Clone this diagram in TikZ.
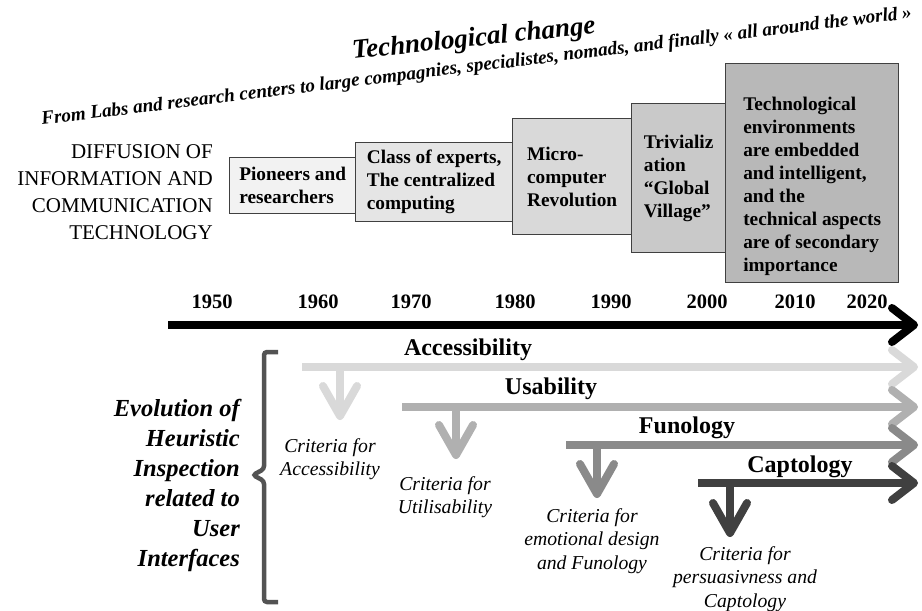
\documentclass[tikz,border=0pt]{standalone}
\usepackage{fontspec}
\setmainfont{Liberation Serif}
\usetikzlibrary{arrows.meta,positioning}
\definecolor{accgray}{HTML}{D9D9D9}
\definecolor{usegray}{HTML}{B0B0B0}
\definecolor{fungray}{HTML}{8A8A8A}
\definecolor{capgray}{HTML}{404040}

\begin{document}
\begin{tikzpicture}[
    x=1pt, y=-1pt,
    stage/.style={draw=black!75, line width=1.3pt, anchor=north west, inner sep=0pt},
    stagetext/.style={align=left, inner sep=0pt, font=\fontsize{19.3}{23}\selectfont\bfseries},
    year/.style={font=\fontsize{20.5}{24}\selectfont\bfseries},
    trend/.style={line width=8pt, -{Straight Barb[length=22pt,width=34pt,round]}},
    drop/.style={line width=8pt, -{Straight Barb[length=30pt,width=34pt,round]}},
    trendlabel/.style={font=\fontsize{24}{28}\selectfont\bfseries},
    crit/.style={align=center, inner sep=0pt, font=\fontsize{19.7}{23.5}\selectfont\itshape}
]
\useasboundingbox (0,0) rectangle (922,611);

% Title
\node[anchor=base west, rotate=6, inner sep=0pt, font=\fontsize{27}{30}\selectfont\bfseries\itshape] (title) at (353,59) {Technological change};
\node[anchor=base west, rotate=7, inner sep=0pt, font=\fontsize{19.1}{22}\selectfont\bfseries\itshape] (sub) at (42,125) {From Labs and research centers to large compagnies, specialistes, nomads, and finally « all around the world »};

% Diffusion stages
\node[anchor=east, align=right, inner sep=0pt, font=\fontsize{21}{27}\selectfont] (diff) at (213,192) {DIFFUSION OF\\INFORMATION AND\\COMMUNICATION\\TECHNOLOGY};
\node[stage, fill=black!5, minimum width=126pt, minimum height=56pt] (s1) at (229,157) {};
\node[stage, fill=black!10, minimum width=157pt, minimum height=79pt] (s2) at (355,142) {};
\node[stage, fill=black!15, minimum width=119pt, minimum height=116pt] (s3) at (512,118) {};
\node[stage, fill=black!21, minimum width=94pt, minimum height=149pt] (s4) at (631,103) {};
\node[stage, fill=black!28, minimum width=173pt, minimum height=219pt] (s5) at (725,63) {};
\node[stagetext] (t1) at (s1.center) {Pioneers and\\researchers};
\node[stagetext] (t2) at (s2.center) {Class of experts,\\The centralized\\computing};
\node[stagetext] (t3) at (s3.center) {Micro-\\computer\\Revolution};
\node[stagetext] (t4) at (s4.center) {Trivializ\\ation\\“Global\\Village”};
\node[stagetext] (t5) at ([yshift=-13pt]s5.center) {Technological\\environments\\are embedded\\and intelligent,\\and the\\technical aspects\\are of secondary\\importance};

% Time line
\foreach \yr/\xx in {1950/212, 1960/318, 1970/411, 1980/515, 1990/611, 2000/707, 2010/795, 2020/867}
    \node[year] (y\yr) at (\xx,302) {\yr};
\coordinate (t0) at (168,325);
\coordinate (tend) at (918,325);
\draw[trend, draw=black] (t0) -- (tend);

% Heuristic inspection
\node[anchor=east, align=right, inner sep=0pt, font=\fontsize{24.5}{30}\selectfont\bfseries\itshape] (evo) at (240,485) {Evolution of\\Heuristic\\Inspection\\related to\\User\\Interfaces};
\draw[capgray!90, line width=4.5pt, rounded corners=3pt] (278,352) -- (264,352) -- (264,469) -- (253,475) -- (264,481) -- (264,602) -- (278,602);

% Accessibility
\coordinate (acc0) at (302,367);
\coordinate (acc1) at (918,367);
\draw[trend, draw=accgray] (acc0) -- (acc1);
\node[trendlabel] (acc) at (468,350) {Accessibility};
\coordinate (accd0) at (340,367);
\coordinate (accd1) at (340,420);
\draw[drop, draw=accgray] (accd0) -- (accd1);
\node[crit] (acccrit) at (330,459) {Criteria for\\Accessibility};

% Usability
\coordinate (use0) at (402,407);
\coordinate (use1) at (918,407);
\draw[trend, draw=usegray] (use0) -- (use1);
\node[trendlabel] (use) at (551,389) {Usability};
\coordinate (used0) at (456,407);
\coordinate (used1) at (456,459);
\draw[drop, draw=usegray] (used0) -- (used1);
\node[crit] (usecrit) at (445,497) {Criteria for\\Utilisability};

% Funology
\coordinate (fun0) at (566,445);
\coordinate (fun1) at (918,445);
\draw[trend, draw=fungray] (fun0) -- (fun1);
\node[trendlabel] (fun) at (687,428) {Funology};
\coordinate (fund0) at (597,445);
\coordinate (fund1) at (597,498);
\draw[drop, draw=fungray] (fund0) -- (fund1);
\node[crit] (funcrit) at (592,541) {Criteria for\\emotional design\\and Funology};

% Captology
\coordinate (cap0) at (698,483);
\coordinate (cap1) at (918,483);
\draw[trend, draw=capgray] (cap0) -- (cap1);
\node[trendlabel] (cap) at (800,467) {Captology};
\coordinate (capd0) at (730,483);
\coordinate (capd1) at (730,537);
\draw[drop, draw=capgray] (capd0) -- (capd1);
\node[crit] (capcrit) at (745,579) {Criteria for\\persuasivness and\\Captology};

\end{tikzpicture}
\end{document}
